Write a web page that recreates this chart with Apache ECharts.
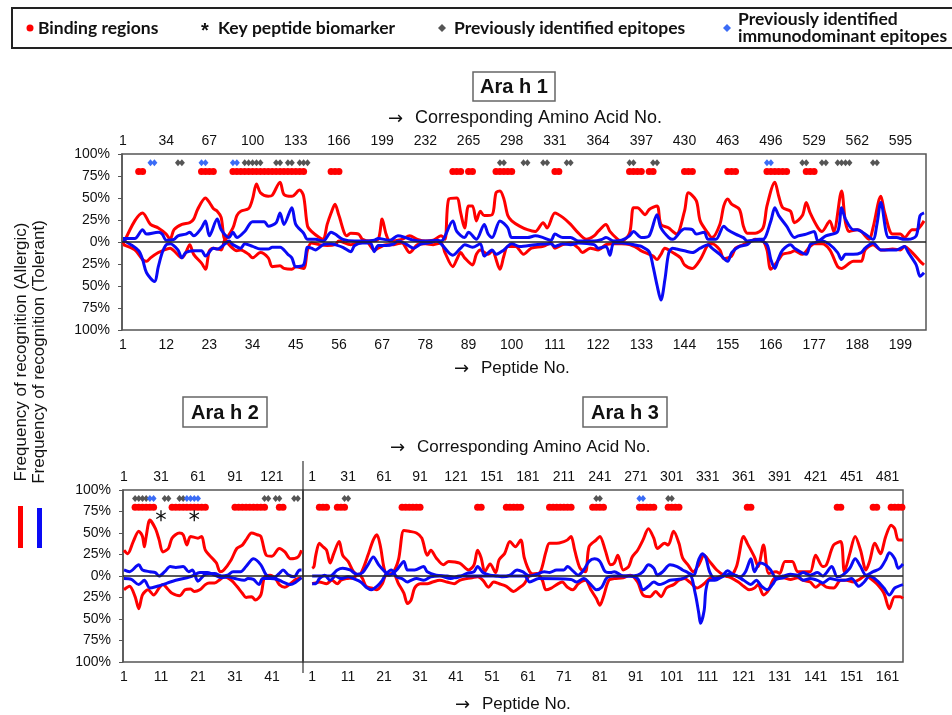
<!DOCTYPE html>
<html>
<head>
<meta charset="utf-8">
<script src="https://cdn.jsdelivr.net/npm/echarts@6/dist/echarts.min.js"></script>
<style>
html, body { margin: 0; padding: 0; background: #fff; }
#chart { width: 952px; height: 715px; }
</style>
</head>
<body>
<div id="chart"></div>
<script>
// tick labels: peptide no. (bottom) and corresponding amino acid no. (top)
const ah1PepTicks = [1, 12, 23, 34, 45, 56, 67, 78, 89, 100, 111, 122, 133, 144, 155, 166, 177, 188, 199]
const ah1AaTicks = [1, 34, 67, 100, 133, 166, 199, 232, 265, 298, 331, 364, 397, 430, 463, 496, 529, 562, 595]
const ah2PepTicks = [1, 11, 21, 31, 41]
const ah2AaTicks = [1, 31, 61, 91, 121]
const ah3PepTicks = [1, 11, 21, 31, 41, 51, 61, 71, 81, 91, 101, 111, 121, 131, 141, 151, 161]
const ah3AaTicks = [1, 31, 61, 91, 121, 151, 181, 211, 241, 271, 301, 331, 361, 391, 421, 451, 481]

// frequency of recognition, [peptide, %]; "up" plotted above 0, "down" below
const ah1RedUp = [[1,-3],[4,24],[6,33],[8,20],[10,16],[12,9],[13,3],[14,14],[16,20],[18,22],[19,26],[20,37],[22,50],[23,45],[24,38],[25,35],[26,28],[27,3],[29,16],[30,30],[31,35],[33,38],[34,49],[35,66],[36,56],[38,52],[39,53],[41,68],[42,54],[44,52],[46,59],[47,52],[48,18],[49,12],[51,5],[52,3],[53,20],[54,33],[55,43],[56,30],[58,7],[59,10],[61,9],[62,3],[64,1],[66,3],[67,26],[68,9],[69,1],[72,3],[74,7],[76,3],[78,1],[80,2],[82,7],[83,3],[84,49],[86,50],[87,33],[88,16],[89,41],[90,41],[91,24],[92,35],[93,30],[95,31],[96,56],[97,58],[98,49],[99,30],[100,24],[102,18],[104,14],[106,12],[108,22],[109,16],[111,33],[113,28],[115,20],[117,10],[119,3],[121,7],[122,12],[124,20],[125,12],[127,3],[128,1],[130,10],[131,39],[132,39],[134,31],[135,37],[137,41],[138,20],[140,16],[141,12],[142,9],[144,35],[145,56],[147,47],[148,24],[150,10],[151,5],[153,20],[154,41],[155,49],[156,43],[158,37],[159,18],[160,10],[162,10],[164,16],[165,41],[167,68],[168,52],[169,39],[171,35],[172,22],[174,30],[175,45],[176,33],[178,16],[179,12],[181,24],[182,12],[184,58],[185,22],[186,12],[188,14],[189,12],[191,3],[192,16],[194,52],[195,33],[197,9],[199,9],[200,5],[202,14],[203,14],[205,24]]
const ah1RedDown = [[1,-3],[4,-9],[6,-20],[7,-22],[8,-18],[10,-12],[11,-10],[13,-7],[14,-10],[16,-18],[17,-12],[18,-3],[19,-14],[21,-24],[22,-31],[23,-10],[24,-7],[26,-9],[27,3],[28,-3],[30,-10],[31,-9],[33,-14],[34,-18],[36,-12],[38,-18],[39,-28],[41,-27],[42,-30],[44,-31],[45,-28],[47,-30],[48,-9],[49,-1],[51,-3],[53,-4],[55,-3],[56,1],[59,-3],[61,-1],[63,0],[65,-9],[66,-7],[68,-3],[70,-3],[72,-1],[74,-12],[76,-3],[78,-2],[80,-3],[82,-1],[83,-12],[85,-28],[86,-20],[87,-12],[88,-18],[90,-26],[91,-14],[92,-9],[94,-14],[95,-10],[97,-31],[98,-16],[99,-5],[101,-5],[103,-14],[105,-7],[108,-5],[110,-1],[111,-7],[113,-3],[115,-1],[117,-7],[118,-12],[120,-7],[122,-9],[124,-3],[126,-2],[128,-2],[130,-3],[132,-7],[133,-10],[136,-16],[137,-20],[138,-14],[139,-7],[141,-12],[143,-18],[144,-26],[146,-30],[148,-20],[150,-3],[151,-2],[153,-9],[154,-19],[156,-16],[157,-7],[159,-3],[161,1],[162,3],[164,1],[165,-9],[166,-31],[168,-20],[169,-14],[171,-12],[172,-10],[174,-14],[176,-5],[177,-2],[179,-2],[181,-9],[183,-28],[184,-30],[186,-24],[187,-22],[189,-22],[190,-9],[192,-3],[194,-9],[195,-9],[197,-8],[199,-9],[200,-5],[202,-12],[204,-22],[205,-26]]
const ah1BlueUp = [[1,4],[4,4],[6,14],[7,9],[10,11],[11,9],[12,2],[14,3],[15,7],[17,9],[18,11],[19,7],[21,16],[22,24],[23,7],[25,26],[26,14],[28,5],[29,11],[30,5],[32,12],[34,23],[37,23],[38,18],[40,22],[41,33],[42,20],[44,39],[45,20],[47,10],[48,3],[50,3],[52,1],[54,11],[55,9],[57,3],[60,1],[62,1],[65,2],[66,4],[69,2],[71,7],[73,5],[75,2],[78,1],[81,2],[82,1],[85,24],[86,12],[88,5],[89,11],[91,3],[93,20],[94,9],[95,5],[97,24],[99,16],[100,5],[102,5],[104,5],[106,7],[108,5],[110,2],[111,9],[113,5],[115,5],[117,1],[121,1],[123,3],[124,5],[126,1],[128,2],[130,7],[131,12],[133,5],[135,7],[137,31],[138,16],[140,5],[141,3],[143,12],[144,15],[146,14],[147,9],[149,11],[150,3],[152,3],[154,18],[155,14],[157,9],[159,5],[160,1],[163,3],[164,3],[166,24],[167,39],[168,30],[170,18],[172,5],[173,7],[175,9],[177,12],[178,1],[180,7],[183,12],[184,39],[185,26],[187,14],[188,14],[190,9],[192,3],[193,20],[194,45],[196,5],[198,5],[200,3],[201,3],[203,7],[204,30],[205,33]]
const ah1BlueDown = [[1,2],[3,-3],[5,-10],[6,-20],[7,-35],[9,-45],[10,-28],[11,-12],[12,-3],[13,-2],[15,-9],[16,-18],[17,-12],[19,-10],[21,-10],[22,-16],[24,-7],[25,-8],[27,-2],[28,1],[29,-3],[31,-7],[32,-2],[34,-5],[36,-8],[38,-8],[39,-6],[41,-6],[43,-14],[44,-18],[45,-28],[47,-26],[48,-6],[49,-7],[50,-9],[52,-3],[54,-2],[55,-3],[57,-6],[59,-11],[60,-4],[62,-1],[64,-1],[65,-11],[66,-4],[68,-4],[70,-2],[71,1],[73,-2],[75,-7],[77,-2],[79,-1],[81,1],[82,-2],[85,-15],[87,-7],[88,-3],[90,-6],[92,-2],[93,-16],[95,-9],[96,-14],[98,-9],[100,-2],[102,-5],[106,-3],[110,-2],[111,-5],[113,-2],[115,-3],[117,-1],[121,-3],[122,-7],[124,-5],[125,-15],[126,-1],[128,-1],[130,-2],[132,-4],[133,-5],[135,-11],[136,-28],[137,-49],[138,-66],[139,-43],[140,-12],[141,-7],[142,-8],[144,-10],[146,-12],[148,-7],[150,-3],[151,-7],[153,-14],[155,-22],[156,-12],[158,-5],[160,-3],[161,1],[163,2],[165,-3],[166,-20],[167,-30],[168,-18],[169,-9],[171,-3],[172,-7],[175,-14],[176,-3],[177,-1],[179,1],[181,-3],[183,-12],[184,-20],[185,-14],[187,-14],[189,-12],[190,-7],[192,-1],[194,-9],[195,-9],[198,-9],[200,-5],[201,-12],[203,-26],[204,-39],[205,-35]]

const ah2RedUp = [[1,30],[2,26],[3.5,40],[5,52],[6,46],[6.5,34],[7,46],[8,65],[9.5,55],[10.5,42],[11.5,28],[13,32],[14,44],[16,50],[17,48],[18,36],[19,46],[21,44],[22,46],[23,30],[25,20],[26,15],[27,5],[28,7],[30,19],[31.5,32],[33,36],[34,42],[35.5,50],[37,48],[38,46],[39.5,24],[41,23],[43,32],[44.5,28],[46,20],[48,22],[49,30]]
const ah2RedDown = [[1,-16],[2.5,-12],[4,-24],[5,-38],[6,-22],[7.5,-16],[9,-22],[10.5,-14],[11.5,-10],[13,-16],[14,-20],[16,-23],[17.5,-16],[19,-15],[20,-18],[21.5,-16],[23,-10],[24,-8],[25.5,-8],[27,-4],[28,-1],[30,-5],[31.5,-12],[33,-20],[34,-25],[35.5,-24],[36.5,-28],[38,-22],[39,-1],[40.5,1],[42,-3],[43,-10],[44.5,-13],[46,-9],[47.5,-4],[49,-2]]
const ah2BlueUp = [[1,7],[2.5,5],[5,13],[6,7],[8,5],[9.5,4],[10.5,0],[12,5],[13.5,11],[15,10],[17,11],[18.5,5],[19.5,7],[21,-6],[23,2],[25.5,3],[27.5,0],[29,1],[30.5,5],[32.5,5],[34,11],[36,20],[38,13],[39.5,1],[41.5,-2],[43,3],[44,7],[45.5,1],[47,-1],[48.5,7],[49,7]]
const ah2BlueDown = [[1,-3],[3,-4],[5,-10],[6.5,-5],[8,-14],[10,-12],[11.5,-10],[13.5,-7],[15,-5],[18,-2],[19.5,0],[21.5,4],[23.5,4],[25,2],[27.5,-2],[29,-1],[31,-3],[33.5,-5],[34.5,-3],[36,-4],[37.5,-10],[38.5,-3],[40.5,-3],[42.5,-4],[44,-7],[46,-10],[47.5,-7],[49,-2]]

const ah3RedUp = [[1,9],[1.5,11],[2,24],[3,38],[4,34],[5,30],[6,15],[7,26],[8.5,40],[9.5,24],[11,17],[12.5,5],[14,1],[15,7],[16.5,24],[18,42],[19,48],[20,34],[21,9],[22,1],[23.5,4],[25,19],[26.5,53],[28,52],[30,50],[31.5,44],[33,24],[34,30],[35.5,21],[37.5,13],[39,17],[42,15],[44.5,7],[46,13],[47,30],[48,21],[49,5],[50.5,14],[52,4],[53,19],[54.5,26],[56,40],[57.5,34],[59,42],[60,21],[61.5,5],[63,1],[64.5,5],[66,28],[67,38],[69,38],[71,40],[72,42],[73,46],[74,30],[75.5,9],[77,5],[78,34],[80,42],[81,46],[82.5,30],[84,13],[85,15],[86,24],[87.5,7],[89,11],[90,22],[91.5,30],[93,42],[94.5,55],[96,44],[97,32],[99,38],[100,36],[101.5,52],[103,38],[104,21],[105.5,13],[107,5],[108.5,13],[110,24],[111.5,17],[113.5,7],[115.5,1],[117,-1],[119,11],[121,46],[122,38],[124,22],[125,11],[126.5,36],[128,3],[130,5],[131,3],[132.5,17],[134.5,17],[136,5],[137.5,5],[139.5,5],[141,24],[143,11],[144,13],[146,36],[148,40],[149,5],[150.5,26],[152,46],[153.5,30],[155,7],[156,17],[157.5,38],[159,26],[160.5,46],[162,59],[163,55],[164,42],[165.3,42]]
const ah3RedDown = [[1,-9],[2,-8],[3,-7],[5,-9],[6.5,-5],[8,-9],[9,-5],[10.5,-3],[12.5,-2],[14,2],[15,-3],[16,-12],[17.5,-14],[19,-16],[20.5,-9],[21.5,1],[23.5,3],[25,-9],[26.5,-20],[27.5,-32],[28.5,-28],[29.5,-14],[31,-9],[33,-9],[34.5,-7],[36.5,-5],[38.5,-7],[40.5,-9],[42,-5],[44,-3],[45.5,-2],[47,-1],[48.5,-5],[50,-13],[51.5,-7],[53,-9],[55,-12],[57,-18],[58.5,-14],[60,-9],[61.5,1],[63.5,3],[65,-5],[66,-16],[67.5,-14],[69,-10],[70.5,-7],[72,-13],[73.5,-16],[75,-9],[77,-5],[78.5,-16],[80,-26],[81,-34],[82,-24],[83.5,-5],[85,-3],[87.5,-2],[89.5,1],[91.5,-7],[93,-22],[95,-24],[96.5,-18],[98,-24],[99.5,-14],[101.5,-10],[103,-5],[104.5,-3],[106,-7],[108,-14],[110,-9],[111.5,-3],[113.5,-2],[115.5,1],[117,-1],[119.5,-7],[121,-12],[122.5,-16],[124,-14],[125,-10],[126.5,-22],[128,-16],[129.5,-3],[132,-2],[134,-4],[136,-2],[137.5,-5],[139.5,-7],[141,-13],[142.5,-9],[144,-13],[146,-14],[148,-5],[149.5,-5],[151.5,-7],[153.5,-3],[155,1],[156,-2],[158,-9],[160,-20],[161.5,-38],[163,-24],[164.5,-24],[165.3,-26]]
const ah3BlueUp = [[1,0],[5,0],[6,0],[8,7],[9.5,9],[11.5,7],[13.5,2],[15,4],[16.5,13],[18,22],[19.5,13],[21,6],[22.5,1],[24.5,7],[26.5,17],[27.5,7],[29.5,7],[32,11],[33,5],[35.5,1],[38.5,0],[41,-2],[44,3],[46,5],[47,11],[48.5,4],[50.5,1],[52.5,0],[54,-1],[56,1],[58,7],[59.5,5],[61.5,0],[63.5,2],[65.5,5],[67,4],[69,7],[71,7],[72,11],[73.5,6],[75,1],[76.5,7],[78,17],[79.5,20],[81,17],[82.5,5],[84,4],[85,5],[87.5,0],[89.5,0],[91.5,1],[93,5],[94.5,13],[96,9],[97,1],[98.5,5],[100.5,13],[102.5,11],[104,7],[105,5],[107,1],[108.5,19],[109.5,26],[110.5,21],[111.5,5],[113,-3],[115,0],[116.5,6],[118,2],[120,-1],[121.5,5],[123,20],[124,5],[125.5,15],[127,13],[128.5,7],[130,-2],[132,0],[134,2],[136,1],[137.5,4],[139.5,1],[141.5,4],[143,0],[145.5,11],[147,-1],[148.5,1],[150.5,9],[152,20],[153.5,11],[155,1],[157,5],[159,9],[160.5,19],[161.5,27],[163,20],[164,9],[165.3,14]]
const ah3BlueDown = [[1,-9],[2,-9],[3,-3],[4.5,1],[6,-5],[7.5,0],[9,-3],[11,-1],[13,-4],[14.5,-7],[16,-13],[17.5,-16],[19,-12],[20.5,-5],[21.5,2],[23,7],[24.5,-1],[26,-3],[27.5,-7],[28.5,-5],[30,-3],[32,-5],[34,-1],[36.5,0],[39.5,-3],[42,0],[60,0],[61.5,-7],[64,-3],[73,-4],[74.5,-7],[76.5,-3],[78.5,-10],[80,-16],[81.5,-13],[83,-2],[85,0],[89,0],[91.5,-3],[93,-16],[94.5,-12],[96,-7],[97.5,-10],[99,-8],[100.5,-5],[102.5,-4],[104,-3],[106,1],[107.5,-20],[108.5,-43],[109,-55],[110,-40],[110.5,-16],[111.5,-5],[113,-5],[115,-1],[117,2],[119,0],[121,-5],[123,-10],[124.5,-5],[126,-12],[127.5,-16],[129,-10],[130,-4],[132,-2],[134,1],[136,0],[137.5,-5],[139.5,-3],[141.5,-5],[143,-8],[145,-3],[147.5,-5],[149,-5],[151,-3],[153,-12],[154.5,-7],[156,0],[158,-5],[160,-14],[161.5,-22],[163,-14],[165.3,-10]]

// peptide markers
const ah1Binding = [5,6,21,22,23,24,29,30,31,32,33,34,35,36,37,38,39,40,41,42,43,44,45,46,47,54,55,56,85,86,87,89,90,96,97,98,99,100,111,112,130,131,132,133,135,136,144,145,146,155,156,157,165,166,167,168,169,170,175,176,177]
const ah1Epitopes = [15,16,32,33,34,35,36,40,41,43,44,46,47,48,97,98,103,104,108,109,114,115,130,131,136,137,174,175,179,180,183,184,185,186,192,193]
const ah1Immuno = [8,9,21,22,29,30,165,166]
const ah2Binding = [4,5,6,7,8,9,14,15,16,17,18,19,20,21,22,23,31,32,33,34,35,36,37,38,39,43,44]
const ah2Epitopes = [4,5,6,7,12,13,16,17,39,40,42,43,47,48]
const ah2Immuno = [8,9,18,19,20,21]
const ah2Key = [11,20]
const ah3Binding = [3,4,5,8,9,10,26,27,28,29,30,31,47,48,55,56,57,58,59,67,68,69,70,71,72,73,79,80,81,82,92,93,94,95,96,100,101,102,103,122,123,147,148,157,158,162,163,164,165]
const ah3Epitopes = [10,11,80,81,100,101]
const ah3Immuno = [92,93]

const RED = '#ff0000'
const BLUE = '#0a0af5'
const GREY = '#555555'
const LBLUE = '#3b6cf6'
const FONT = 'Liberation Sans, Arial, sans-serif'
const LEG = 'bold 17.5px Lato, "Open Sans", sans-serif'
const ASTERISK = 'path://M-0.6,5L0.6,5L0.6,-5L-0.6,-5Z M4.03,3.02L4.63,1.98L-4.03,-3.02L-4.63,-1.98Z M-4.63,1.98L-4.03,3.02L4.63,-1.98L4.03,-3.02Z'

function pepAxis(grid, min, max, pep, top, aa) {
  return {
    type: 'value',
    gridIndex: grid,
    position: top ? 'top' : 'bottom',
    min: min,
    max: max,
    axisLine: { show: false },
    axisTick: { show: false },
    splitLine: { show: false },
    axisLabel: {
      customValues: pep,
      margin: top ? 6 : 8,
      color: '#111',
      fontSize: 14,
      fontFamily: FONT,
      formatter: v => top ? String(aa[pep.indexOf(v)]) : String(v)
    }
  }
}

function freqAxis(grid, show) {
  return {
    type: 'value',
    gridIndex: grid,
    min: -100,
    max: 100,
    interval: 25,
    show: show,
    splitLine: { show: false },
    axisLine: { show: true, lineStyle: { color: GREY, width: 1.5 } },
    axisTick: { show: true, length: 4, lineStyle: { color: GREY } },
    axisLabel: {
      margin: 12,
      color: '#111',
      fontSize: 14,
      fontFamily: FONT,
      formatter: v => Math.abs(v) + '%'
    }
  }
}

function line(data, color, xi, yi, zero) {
  const s = {
    type: 'line',
    xAxisIndex: xi,
    yAxisIndex: yi,
    data: data,
    smooth: 0.3,
    symbol: 'none',
    lineStyle: { color: color, width: 3 },
    z: color === RED ? 3 : 4
  }
  if (zero) {
    s.markLine = {
      silent: true,
      symbol: ['none', 'none'],
      label: { show: false },
      lineStyle: { color: '#222', width: 1.5, type: 'solid' },
      data: [{ yAxis: 0 }]
    }
  }
  return s
}

function marks(peps, level, xi, yi, symbol, size, color) {
  return {
    type: 'scatter',
    xAxisIndex: xi,
    yAxisIndex: yi,
    data: peps.map(p => [p, level]),
    symbol: symbol,
    symbolSize: size,
    itemStyle: { color: color, opacity: 1 },
    z: 6
  }
}

function txt(x, y, text, font, align) {
  return {
    type: 'text',
    x: x,
    y: y,
    style: { text: text, font: font, fill: '#111', textAlign: align || 'center', textVerticalAlign: 'middle' }
  }
}

// "→  Peptide No." style captions, arrow drawn with a font that has a long arrow
function caption(x, y, text, size) {
  return [
    txt(x, y + 1, '\u2192', '18px "DejaVu Sans", sans-serif', 'left'),
    txt(x + 27, y, text, size + 'px ' + FONT, 'left')
  ]
}

function titleBox(x, y, w, h, text) {
  return [
    { type: 'rect', shape: { x: x, y: y, width: w, height: h }, style: { fill: '#fff', stroke: '#666', lineWidth: 1.5 } },
    txt(x + w / 2, y + h / 2 + 1, text, 'bold 20px ' + FONT)
  ]
}

const chart = echarts.init(document.getElementById('chart'))

chart.setOption({
  backgroundColor: '#fff',
  animation: false,
  grid: [
    { left: 122, top: 154, width: 804, height: 176, show: true, borderColor: GREY, borderWidth: 1.5 },
    { left: 123, top: 490, width: 180, height: 172, show: true, borderColor: GREY, borderWidth: 1.5 },
    { left: 303, top: 490, width: 600, height: 172, show: true, borderColor: GREY, borderWidth: 1.5 }
  ],
  xAxis: [
    pepAxis(0, 0.75, 205.5, ah1PepTicks, false),
    pepAxis(0, 0.75, 205.5, ah1PepTicks, true, ah1AaTicks),
    pepAxis(1, 0.73, 49.4, ah2PepTicks, false),
    pepAxis(1, 0.73, 49.4, ah2PepTicks, true, ah2AaTicks),
    pepAxis(2, -1.55, 165.3, ah3PepTicks, false),
    pepAxis(2, -1.55, 165.3, ah3PepTicks, true, ah3AaTicks)
  ],
  yAxis: [freqAxis(0, true), freqAxis(1, true), freqAxis(2, false)],
  series: [
    line(ah1RedUp, RED, 0, 0, true),
    line(ah1RedDown, RED, 0, 0),
    line(ah1BlueUp, BLUE, 0, 0),
    line(ah1BlueDown, BLUE, 0, 0),
    marks(ah1Binding, 80, 0, 0, 'circle', 7, RED),
    marks(ah1Epitopes, 90, 0, 0, 'diamond', [6, 7], GREY),
    marks(ah1Immuno, 90, 0, 0, 'diamond', [6, 7], LBLUE),

    line(ah2RedUp, RED, 2, 1, true),
    line(ah2RedDown, RED, 2, 1),
    line(ah2BlueUp, BLUE, 2, 1),
    line(ah2BlueDown, BLUE, 2, 1),
    marks(ah2Binding, 80, 2, 1, 'circle', 7, RED),
    marks(ah2Epitopes, 90, 2, 1, 'diamond', [6, 7], GREY),
    marks(ah2Immuno, 90, 2, 1, 'diamond', [6, 7], LBLUE),
    marks(ah2Key, 70, 2, 1, ASTERISK, [10, 11], '#111'),

    line(ah3RedUp, RED, 4, 2, true),
    line(ah3RedDown, RED, 4, 2),
    line(ah3BlueUp, BLUE, 4, 2),
    line(ah3BlueDown, BLUE, 4, 2),
    marks(ah3Binding, 80, 4, 2, 'circle', 7, RED),
    marks(ah3Epitopes, 90, 4, 2, 'diamond', [6, 7], GREY),
    marks(ah3Immuno, 90, 4, 2, 'diamond', [6, 7], LBLUE)
  ],
  graphic: [
    // legend
    { type: 'rect', shape: { x: 12, y: 8, width: 945, height: 40 }, style: { fill: 'none', stroke: '#222', lineWidth: 2 } },
    { type: 'circle', shape: { cx: 30, cy: 28, r: 3.5 }, style: { fill: RED } },
    txt(38, 28, 'Binding regions', LEG, 'left'),
    txt(205, 31, '*', 'bold 20px ' + FONT),
    txt(218, 28, 'Key peptide biomarker', LEG, 'left'),
    { type: 'polygon', shape: { points: [[442, 24], [446, 28], [442, 32], [438, 28]] }, style: { fill: GREY } },
    txt(454, 28, 'Previously identified epitopes', LEG, 'left'),
    { type: 'polygon', shape: { points: [[727, 24], [731, 28], [727, 32], [723, 28]] }, style: { fill: LBLUE } },
    txt(738, 19, 'Previously identified', LEG, 'left'),
    txt(738, 36, 'immunodominant epitopes', LEG, 'left'),

    // panel titles and axis names
    ...titleBox(473, 72, 82, 29, 'Ara h 1'),
    ...titleBox(183, 397, 84, 30, 'Ara h 2'),
    ...titleBox(583, 397, 84, 30, 'Ara h 3'),
    ...caption(388, 118, 'Corresponding Amino Acid No.', 18),
    ...caption(390, 447, 'Corresponding Amino Acid No.', 17),
    ...caption(454, 368, 'Peptide No.', 17),
    ...caption(455, 704, 'Peptide No.', 17),

    // y title
    { type: 'text', x: 21, y: 352, rotation: Math.PI / 2,
      style: { text: 'Frequency of recognition (Allergic)', font: '17px ' + FONT, fill: '#111', textAlign: 'center', textVerticalAlign: 'middle' } },
    { type: 'text', x: 39, y: 352, rotation: Math.PI / 2,
      style: { text: 'Frequency of recognition (Tolerant)', font: '17px ' + FONT, fill: '#111', textAlign: 'center', textVerticalAlign: 'middle' } },
    { type: 'rect', shape: { x: 18, y: 506, width: 5, height: 42 }, style: { fill: RED } },
    { type: 'rect', shape: { x: 37, y: 508, width: 5, height: 40 }, style: { fill: BLUE } },

    // divider between Ara h 2 and Ara h 3
    { type: 'line', shape: { x1: 303, y1: 461, x2: 303, y2: 673 }, style: { stroke: '#333', lineWidth: 1.2 } }
  ]
})
</script>
</body>
</html>
